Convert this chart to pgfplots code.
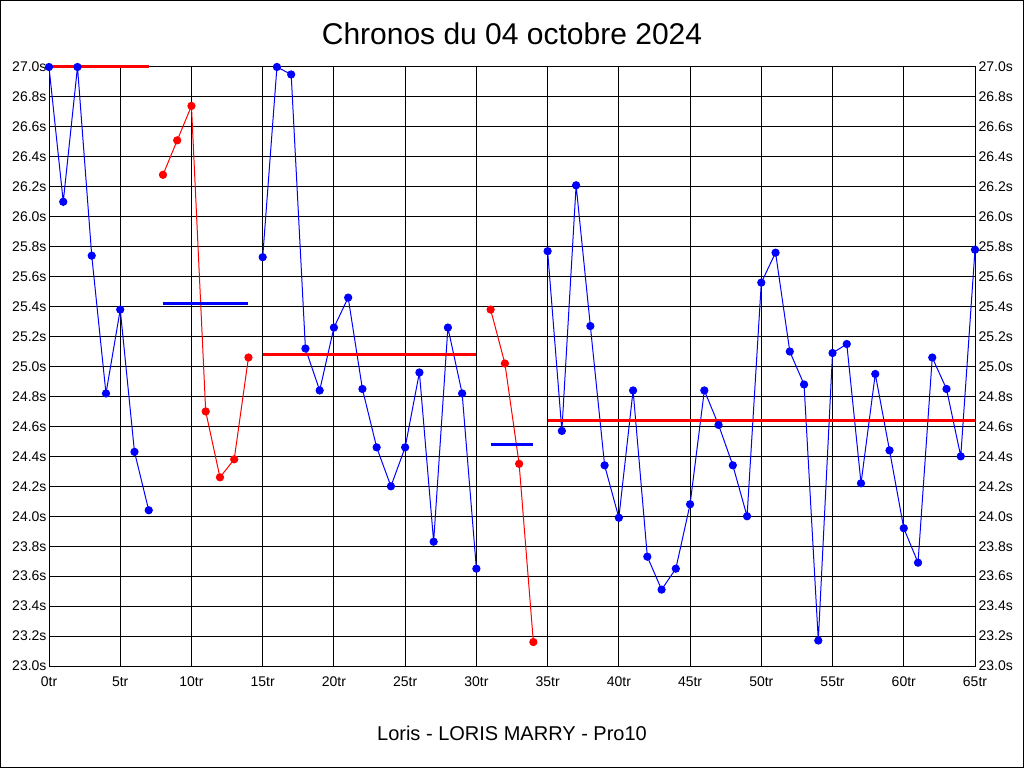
\documentclass[border=0pt]{standalone}
\usepackage{pgfplots}
\pgfplotsset{compat=1.18}
\usepackage{fontspec}
\setmainfont{Liberation Sans}
\begin{document}
\begin{tikzpicture}
\path[use as bounding box] (0pt,0pt) rectangle (1024pt,768pt);
\fill[white] (0pt,0pt) rectangle (1024pt,768pt);
\draw[black,line width=1pt] (0.5pt,0.5pt) rectangle (1023.5pt,767.5pt);
\node at (512pt,734pt) {\fontsize{30}{33}\selectfont Chronos du 04 octobre 2024};
\node at (512pt,35pt) {\fontsize{20}{24}\selectfont Loris - LORIS MARRY - Pro10};
\pgfplotsset{
  common/.style={
    at={(49pt,102pt)}, anchor=south west, scale only axis,
    width=926pt, height=599pt,
    xmin=0, xmax=65, ymin=23, ymax=27,
    ytick={23,23.2,23.4,23.6,23.8,24,24.2,24.4,24.6,24.8,25,25.2,25.4,25.6,25.8,26,26.2,26.4,26.6,26.8,27},
    /pgf/number format/assume math mode=true,
    tick style={draw=none},
    ticklabel style={font=\fontsize{14}{16}\selectfont},
    yticklabel={\pgfmathprintnumber[fixed,fixed zerofill,precision=1]{\tick}s},
    axis line style={black,line width=1pt},
    clip=false,
  }
}
\begin{axis}[common,
  xtick={0,5,...,65},
  xticklabel={\pgfmathprintnumber{\tick}tr},
  xticklabel style={yshift=-7pt},
  grid=major, major grid style={black,line width=1pt},
  ytick pos=left,
  yticklabel style={xshift=1pt},
]
\addplot[blue, line width=1pt, mark=*, mark size=3.6pt] coordinates {
(0,27.0) (1,26.10) (2,27.0) (3,25.74) (4,24.82) (5,25.38) (6,24.43) (7,24.04)};
\addplot[red, line width=1pt, mark=*, mark size=3.6pt] coordinates {
(8,26.28) (9,26.51) (10,26.74) (11,24.70) (12,24.26) (13,24.38) (14,25.06)};
\addplot[blue, line width=1pt, mark=*, mark size=3.6pt] coordinates {
(15,25.73) (16,27.0) (17,26.95) (18,25.12) (19,24.84) (20,25.26) (21,25.46) (22,24.85)
(23,24.46) (24,24.20) (25,24.46) (26,24.96) (27,23.83) (28,25.26) (29,24.82) (30,23.65)};
\addplot[red, line width=1pt, mark=*, mark size=3.6pt] coordinates {
(31,25.38) (32,25.02) (33,24.35) (34,23.16)};
\addplot[blue, line width=1pt, mark=*, mark size=3.6pt] coordinates {
(35,25.77) (36,24.57) (37,26.21) (38,25.27) (39,24.34) (40,23.99) (41,24.84) (42,23.73)
(43,23.51) (44,23.65) (45,24.08) (46,24.84) (47,24.61) (48,24.34) (49,24.00) (50,25.56)
(51,25.76) (52,25.10) (53,24.88) (54,23.17) (55,25.09) (56,25.15) (57,24.22) (58,24.95)
(59,24.44) (60,23.92) (61,23.69) (62,25.06) (63,24.85) (64,24.40) (65,25.78)};
\addplot[red, line width=3pt] coordinates {(0,27.0) (7,27.0)};
\addplot[blue, line width=3pt] coordinates {(8,25.42) (14,25.42)};
\addplot[red, line width=3pt] coordinates {(15,25.08) (30,25.08)};
\addplot[blue, line width=3pt] coordinates {(31,24.48) (34,24.48)};
\addplot[red, line width=3pt] coordinates {(35,24.64) (65,24.64)};
\end{axis}
\begin{axis}[common,
  axis x line=none, axis y line*=right,
  ytick pos=right, yticklabel pos=right,
]
\addplot[draw=none] coordinates {(0,23) (65,27)};
\end{axis}
\end{tikzpicture}
\end{document}
